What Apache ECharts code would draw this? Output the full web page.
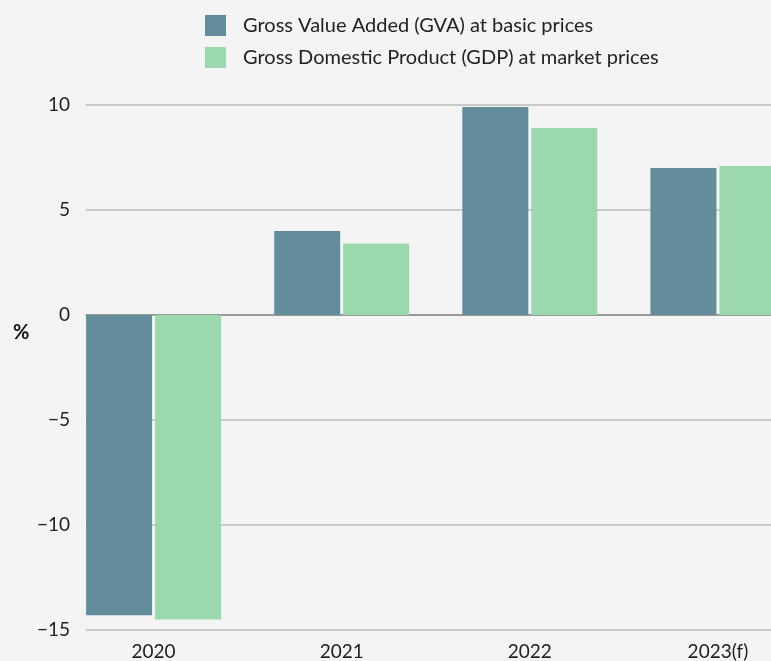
<!DOCTYPE html>
<html>
<head>
<meta charset="utf-8">
<script src="https://cdn.jsdelivr.net/npm/echarts@6/dist/echarts.min.js"></script>
<style>
  html, body { margin: 0; padding: 0; background: #f4f4f4; overflow: hidden; }
  #chart { width: 812px; height: 661px; }
</style>
</head>
<body>
<div id="chart"></div>
<script>
const years = ['2020', '2021', '2022', '2023(f)']
const gva = [-14.3, 4.0, 9.9, 7.0]
const gdp = [-14.5, 3.4, 8.9, 7.1]
const seriesNames = [
  'Gross Value Added (GVA) at basic prices',
  'Gross Domestic Product (GDP) at market prices',
]

const font = 'Lato, "Noto Sans", sans-serif'
// the chart is a bit wider than the window, the last bar is cut off like in the source
const chart = echarts.init(document.getElementById('chart'))

chart.setOption({
  backgroundColor: '#f4f4f4',
  animation: false,
  color: ['#648d9c', '#9bd8ae'],
  textStyle: { fontFamily: font },
  legend: {
    orient: 'vertical',
    left: 200,
    top: 10,
    itemWidth: 21,
    itemHeight: 21,
    itemGap: 11,
    icon: 'rect',
    textStyle: { fontSize: 20, lineHeight: 21, color: '#222', padding: [0, 0, 0, 12] },
    data: seriesNames,
  },
  graphic: [
    {
      type: 'text',
      left: 13,
      top: 323,
      style: { text: '%', font: 'bold 20px ' + font, fill: '#111' },
    },
  ],
  grid: [
    { left: 86, right: 41, top: 105, bottom: 31 },
    { left: 59.5, right: 0, top: 105, bottom: 31 },
  ],
  xAxis: [
    {
      gridIndex: 0,
      type: 'value',
      min: 0,
      max: 1,
      axisLabel: { show: false },
      axisTick: { show: false },
      splitLine: { show: false },
      axisLine: { show: true, onZero: true, lineStyle: { color: '#8a8a8a', width: 1.5 } },
      z: 1,
    },
    {
      gridIndex: 1,
      type: 'category',
      data: years,
      axisLine: { show: false },
      axisTick: { show: false },
      axisLabel: { fontSize: 19, color: '#222', margin: 12 },
    },
  ],
  yAxis: [
    {
      gridIndex: 0,
      type: 'value',
      min: -15,
      max: 10,
      interval: 5,
      axisLine: { show: false },
      axisTick: { show: false },
      axisLabel: {
        fontSize: 19,
        color: '#222',
        margin: 16,
        formatter: v => (v < 0 ? '\u2212' + Math.abs(v) : String(v)),
      },
      splitLine: { lineStyle: { color: '#bdbdbd', width: 1.5 } },
    },
    {
      gridIndex: 1,
      type: 'value',
      min: -15,
      max: 10,
      interval: 5,
      show: false,
      splitLine: { show: false },
    },
  ],
  series: [
    {
      name: seriesNames[0],
      type: 'bar',
      xAxisIndex: 1,
      yAxisIndex: 1,
      data: gva,
      barWidth: 66,
      barGap: '4.5%',
      z: 3,
    },
    {
      name: seriesNames[1],
      type: 'bar',
      xAxisIndex: 1,
      yAxisIndex: 1,
      data: gdp,
      barWidth: 66,
      z: 3,
    },
  ],
})
</script>
</body>
</html>
